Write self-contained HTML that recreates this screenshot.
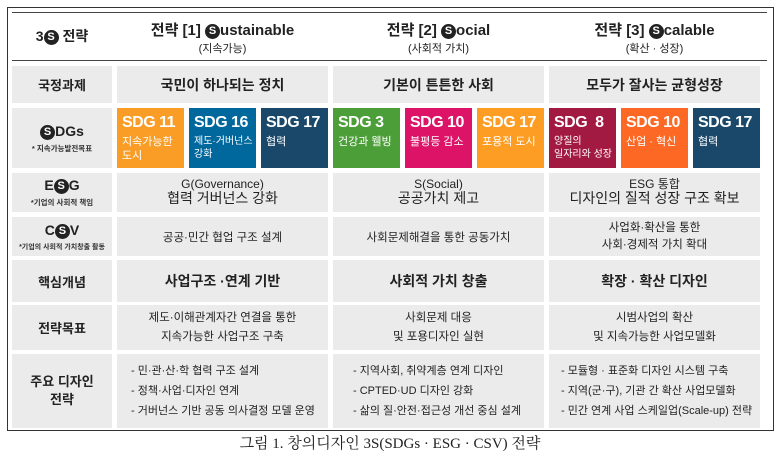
<!DOCTYPE html>
<html><head><meta charset="utf-8"><style>
*{margin:0;padding:0;box-sizing:border-box}
body{width:780px;height:465px;background:#fff;font-family:"Liberation Sans","Noto Sans CJK KR",sans-serif;color:#222;position:relative;overflow:hidden}
.a{position:absolute}
.c{position:absolute;background:#ebebeb;display:flex;flex-direction:column;align-items:center;justify-content:center;text-align:center}
.s{position:absolute;color:#fff;padding:5px 0 0 5px;line-height:1.2}
.s b{font-size:16px;display:block;margin-bottom:3px;letter-spacing:-0.5px}
.s span{font-size:11px;display:block;line-height:1.3}
.S{display:inline-block;width:15px;height:15px;border-radius:50%;background:#222;color:#fff;font-size:11px;line-height:15px;text-align:center;font-weight:bold;vertical-align:1px}
.lbl{font-weight:bold;font-size:13px}
.sm{font-size:7.5px;color:#333;margin-top:3px}
ul{list-style:none;font-size:11px;line-height:20px;text-align:left}
</style></head><body>
<div class="a" style="left:7px;top:7px;width:767px;height:424px;border:1.5px solid #333;border-top:1px solid #333"></div>
<div class="a" style="left:12px;top:12px;width:755px;height:1px;background:#444"></div>
<div class="a" style="left:12px;top:60px;width:755px;height:1px;background:#444"></div>
<div class="a lbl" style="left:12px;top:26px;width:100px;text-align:center;font-size:14px">3<span class="S">S</span> 전략</div>
<div class="a" style="left:117px;top:19px;width:211px;text-align:center"><div style="font-size:15px;font-weight:bold">전략 [1] <span class="S">S</span>ustainable</div><div style="font-size:11px">(지속가능)</div></div>
<div class="a" style="left:333px;top:19px;width:211px;text-align:center"><div style="font-size:15px;font-weight:bold">전략 [2] <span class="S">S</span>ocial</div><div style="font-size:11px">(사회적 가치)</div></div>
<div class="a" style="left:549px;top:19px;width:211px;text-align:center"><div style="font-size:15px;font-weight:bold">전략 [3] <span class="S">S</span>calable</div><div style="font-size:11px">(확산 · 성장)</div></div>

<div class="c lbl" style="left:12px;top:66px;width:100px;height:37px">국정과제</div>
<div class="c" style="left:117px;top:66px;width:211px;height:37px;font-size:14px;font-weight:bold">국민이 하나되는 정치</div>
<div class="c" style="left:333px;top:66px;width:211px;height:37px;font-size:14px;font-weight:bold">기본이 튼튼한 사회</div>
<div class="c" style="left:549px;top:66px;width:211px;height:37px;font-size:14px;font-weight:bold">모두가 잘사는 균형성장</div>

<div class="c lbl" style="left:12px;top:108px;width:100px;height:60px;font-size:14px"><div><span class="S">S</span>DGs</div><div class="sm">* 지속가능발전목표</div></div>
<div class="s" style="left:117px;top:108px;width:67px;height:60px;background:#f99d26"><b>SDG 11</b><span>지속가능한<br>도시</span></div>
<div class="s" style="left:189px;top:108px;width:67px;height:60px;background:#00689d"><b>SDG 16</b><span style="font-size:10px">제도·거버넌스<br>강화</span></div>
<div class="s" style="left:261px;top:108px;width:67px;height:60px;background:#19486a"><b>SDG 17</b><span>협력</span></div>
<div class="s" style="left:333px;top:108px;width:67px;height:60px;background:#4c9f38"><b>SDG 3</b><span>건강과 웰빙</span></div>
<div class="s" style="left:405px;top:108px;width:67px;height:60px;background:#dd1367"><b>SDG 10</b><span>불평등 감소</span></div>
<div class="s" style="left:477px;top:108px;width:67px;height:60px;background:#fd9d24"><b>SDG 17</b><span>포용적 도시</span></div>
<div class="s" style="left:549px;top:108px;width:67px;height:60px;background:#a21942"><b>SDG &nbsp;8</b><span style="font-size:10px">양질의<br>일자리와 성장</span></div>
<div class="s" style="left:621px;top:108px;width:67px;height:60px;background:#fd6925"><b>SDG 10</b><span>산업 · 혁신</span></div>
<div class="s" style="left:693px;top:108px;width:67px;height:60px;background:#19486a"><b>SDG 17</b><span>협력</span></div>

<div class="c lbl" style="left:12px;top:173px;width:100px;height:39px;font-size:14px"><div>E<span class="S">S</span>G</div><div class="sm">*기업의 사회적 책임</div></div>
<div class="c" style="left:117px;top:173px;width:211px;height:39px;line-height:1.1"><div style="font-size:12px">G(Governance)</div><div style="font-size:14px">협력 거버넌스 강화</div></div>
<div class="c" style="left:333px;top:173px;width:211px;height:39px;line-height:1.1"><div style="font-size:12px">S(Social)</div><div style="font-size:14px">공공가치 제고</div></div>
<div class="c" style="left:549px;top:173px;width:211px;height:39px;line-height:1.1"><div style="font-size:12px">ESG 통합</div><div style="font-size:14px">디자인의 질적 성장 구조 확보</div></div>

<div class="c lbl" style="left:12px;top:217px;width:100px;height:39px;font-size:14px"><div>C<span class="S">S</span>V</div><div class="sm" style="font-size:7px">*기업의 사회적 가치창출 활동</div></div>
<div class="c" style="left:117px;top:217px;width:211px;height:39px;font-size:11.5px">공공·민간 협업 구조 설계</div>
<div class="c" style="left:333px;top:217px;width:211px;height:39px;font-size:11.5px">사회문제해결을 통한 공동가치</div>
<div class="c" style="left:549px;top:217px;width:211px;height:39px;font-size:11.5px;line-height:1.45">사업화·확산을 통한<br>사회·경제적 가치 확대</div>

<div class="c lbl" style="left:12px;top:260px;width:100px;height:42px">핵심개념</div>
<div class="c" style="left:117px;top:260px;width:211px;height:42px;font-size:14px;font-weight:bold">사업구조 ·연계 기반</div>
<div class="c" style="left:333px;top:260px;width:211px;height:42px;font-size:14px;font-weight:bold">사회적 가치 창출</div>
<div class="c" style="left:549px;top:260px;width:211px;height:42px;font-size:14px;font-weight:bold">확장 · 확산 디자인</div>

<div class="c lbl" style="left:12px;top:305px;width:100px;height:45px">전략목표</div>
<div class="c" style="left:117px;top:305px;width:211px;height:45px;font-size:11.5px;line-height:1.6">제도·이해관계자간 연결을 통한<br>지속가능한 사업구조 구축</div>
<div class="c" style="left:333px;top:305px;width:211px;height:45px;font-size:11.5px;line-height:1.6">사회문제 대응<br>및 포용디자인 실현</div>
<div class="c" style="left:549px;top:305px;width:211px;height:45px;font-size:11.5px;line-height:1.6">시범사업의 확산<br>및 지속가능한 사업모델화</div>

<div class="c lbl" style="left:12px;top:354px;width:100px;height:74px;line-height:1.4">주요 디자인<br>전략</div>
<div class="c" style="left:117px;top:354px;width:211px;height:74px;align-items:flex-start;padding-left:14px"><ul><li>- 민·관·산·학 협력 구조 설계</li><li>- 정책·사업·디자인 연계</li><li>- 거버넌스 기반 공동 의사결정 모델 운영</li></ul></div>
<div class="c" style="left:333px;top:354px;width:211px;height:74px;align-items:flex-start;padding-left:20px"><ul><li>- 지역사회, 취약계층 연계 디자인</li><li>- CPTED·UD 디자인 강화</li><li>- 삶의 질·안전·접근성 개선 중심 설계</li></ul></div>
<div class="c" style="left:549px;top:354px;width:211px;height:74px;align-items:flex-start;padding-left:12px"><ul><li>- 모듈형 · 표준화 디자인 시스템 구축</li><li>- 지역(군·구), 기관 간 확산 사업모델화</li><li>- 민간 연계 사업 스케일업(Scale-up) 전략</li></ul></div>

<div class="a" style="left:0;top:432px;width:780px;text-align:center;font-family:'Liberation Serif','Noto Serif CJK SC',serif;font-size:15px">그림 1. 창의디자인 3S(SDGs · ESG · CSV) 전략</div>
</body></html>
